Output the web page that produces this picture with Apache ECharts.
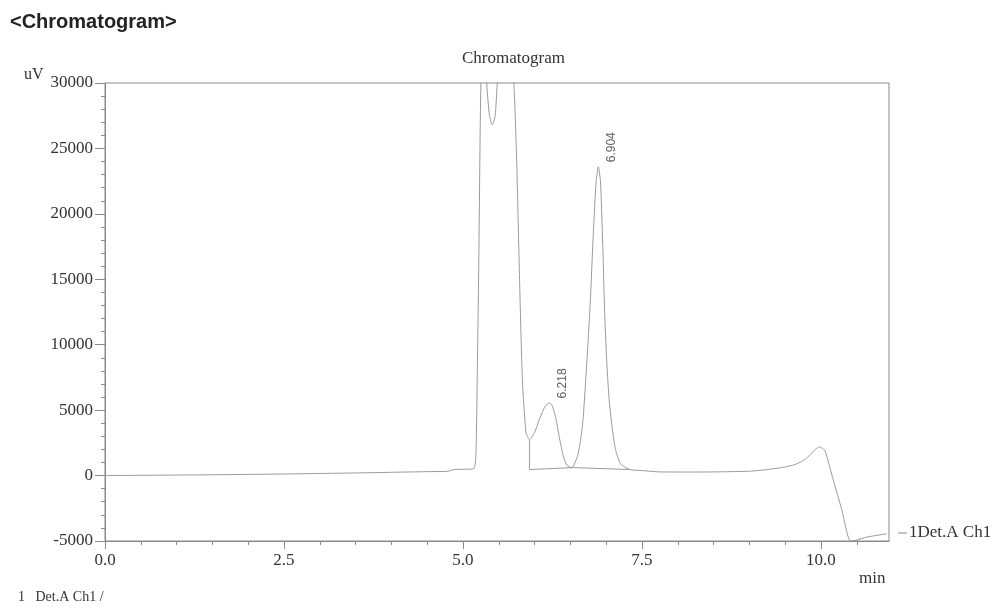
<!DOCTYPE html>
<html>
<head>
<meta charset="utf-8">
<title>Chromatogram</title>
<script src="https://cdn.jsdelivr.net/npm/echarts@6/dist/echarts.min.js"></script>
<style>
  html, body { margin: 0; padding: 0; background: #fff; }
  #chart { width: 997px; height: 607px; }
</style>
</head>
<body>
<div id="chart"></div>
<script>
// retention time (min) and detector signal (uV)
var retentionTime = [
  0.00, 0.50, 1.00, 1.50, 2.00, 2.50, 3.00, 3.50, 4.00, 4.50, 4.80, 4.86, 5.00, 5.15,
  5.18, 5.20, 5.22, 5.25, 5.29, 5.33, 5.37, 5.41, 5.45, 5.48, 5.55, 5.65, 5.71,
  5.75, 5.79, 5.83, 5.88, 5.93,
  6.00, 6.06, 6.12, 6.17, 6.21, 6.25, 6.30, 6.35, 6.40, 6.45, 6.52,
  6.60, 6.65, 6.68, 6.72, 6.75, 6.78, 6.82, 6.86, 6.89, 6.92, 6.95, 6.98,
  7.01, 7.04, 7.08, 7.13, 7.20, 7.33,
  7.50, 7.75, 8.20, 8.52, 9.00, 9.15, 9.43, 9.60, 9.71, 9.78, 9.85, 9.92, 9.98,
  10.03, 10.06, 10.11, 10.17, 10.29, 10.41, 10.48, 10.64, 10.92
];
var signal = [
  0, 20, 40, 60, 90, 120, 160, 200, 250, 300, 330, 450, 480, 520,
  1500, 8000, 16000, 30000, 34000, 30000, 27500, 26800, 27500, 30000, 33000, 33000, 30000,
  24000, 15000, 7300, 3300, 2750,
  3300, 4200, 5000, 5450, 5550, 5300, 4300, 2800, 1500, 800, 590,
  1500, 3000, 4500, 7800, 10500, 13500, 18500, 22500, 23600, 22500, 18000, 12200,
  8500, 5900, 3800, 2000, 900, 460,
  380, 280, 270, 280, 330, 400, 590, 780, 1020, 1250, 1600, 2000, 2190,
  2050, 1860, 900, -300, -2600, -5000, -4950, -4700, -4450
];

// integration baseline drawn under the two labelled peaks
var baseTime = [5.93, 5.93, 6.54, 7.33];
var baseSignal = [2750, 460, 610, 460];

// labelled peaks
var peakTime = [6.21, 6.89];
var peakHeight = [5550, 23600];
var peakLabel = ['6.218', '6.904'];

var xTicks = [0, 2.5, 5, 7.5, 10];
var xMinorTicks = [0.5, 1, 1.5, 2, 3, 3.5, 4, 4.5, 5.5, 6, 6.5, 7, 8, 8.5, 9, 9.5, 10.5];

var lineColor = '#9a9a9a';
var axisColor = '#8a8a8a';
var textColor = '#333';
var serif = '"Liberation Serif", "DejaVu Serif", serif';

var myChart = echarts.init(document.getElementById('chart'));

var trace = retentionTime.map(function (t, i) { return [t, signal[i]]; });
var baseline = baseTime.map(function (t, i) { return [t, baseSignal[i]]; });
var peaks = peakTime.map(function (t, i) { return [t, peakHeight[i]]; });

var option = {
  animation: false,
  backgroundColor: '#fff',
  title: {
    text: 'Chromatogram',
    left: 457,
    top: 45,
    textStyle: { fontFamily: serif, fontSize: 17, fontWeight: 'normal', color: textColor }
  },
  grid: {
    left: 105, right: 108, top: 83, bottom: 66,
    show: true, borderColor: axisColor, borderWidth: 1
  },
  xAxis: [{
    type: 'value',
    min: 0, max: 10.95,
    axisLine: { onZero: false, lineStyle: { color: axisColor } },
    axisTick: { customValues: xTicks, length: 8, lineStyle: { color: axisColor } },
    axisLabel: {
      customValues: xTicks,
      margin: 11,
      fontFamily: serif, fontSize: 17, color: textColor,
      formatter: function (v) { return v.toFixed(1); }
    },
    splitLine: { show: false }
  }, {
    type: 'value',
    position: 'bottom',
    min: 0, max: 10.95,
    axisLine: { show: false, onZero: false },
    axisTick: { customValues: xMinorTicks, length: 4, lineStyle: { color: axisColor } },
    axisLabel: { show: false },
    splitLine: { show: false }
  }],
  yAxis: {
    type: 'value',
    min: -5000, max: 30000, interval: 5000,
    axisLine: { show: true, lineStyle: { color: axisColor } },
    axisTick: { show: true, length: 10, lineStyle: { color: axisColor } },
    minorTick: { show: true, splitNumber: 5, length: 4, lineStyle: { color: axisColor } },
    axisLabel: {
      margin: 12, fontFamily: serif, fontSize: 17, color: textColor,
      formatter: function (v) { return String(v); }
    },
    splitLine: { show: false }
  },
  series: [{
    name: '1Det.A Ch1',
    type: 'line',
    data: trace,
    showSymbol: false,
    smooth: 0.2,
    clip: true,
    lineStyle: { color: lineColor, width: 1 }
  }, {
    type: 'line',
    data: baseline,
    showSymbol: false,
    lineStyle: { color: lineColor, width: 1 }
  }, {
    type: 'scatter',
    data: peaks,
    symbolSize: 1,
    itemStyle: { color: 'rgba(0,0,0,0)' },
    label: {
      show: true,
      position: [14, -4],
      rotate: 90,
      align: 'left',
      verticalAlign: 'middle',
      fontFamily: '"Liberation Sans", Arial, sans-serif',
      fontSize: 12,
      color: textColor,
      formatter: function (p) { return peakLabel[p.dataIndex]; }
    }
  }],
  graphic: [
    { type: 'text', left: 10, top: 12,
      style: { text: '<Chromatogram>', fontFamily: '"Liberation Sans", Arial, sans-serif',
               fontSize: 20, fontWeight: 'bold', fill: '#222' } },
    { type: 'text', left: 24, top: 67,
      style: { text: 'uV', fontFamily: serif, fontSize: 16, fill: textColor } },
    { type: 'text', left: 859, top: 570,
      style: { text: 'min', fontFamily: serif, fontSize: 17, fill: textColor } },
    { type: 'line', shape: { x1: 898, y1: 533, x2: 907, y2: 533 },
      style: { stroke: axisColor, lineWidth: 1 } },
    { type: 'text', left: 909, top: 524,
      style: { text: '1Det.A Ch1', fontFamily: serif, fontSize: 17, fill: textColor } },
    { type: 'text', left: 18, top: 590,
      style: { text: '1   Det.A Ch1 /', fontFamily: serif, fontSize: 14, fill: textColor } }
  ]
};

if (option && typeof option === 'object') {
  myChart.setOption(option, true);
}
</script>
</body>
</html>
